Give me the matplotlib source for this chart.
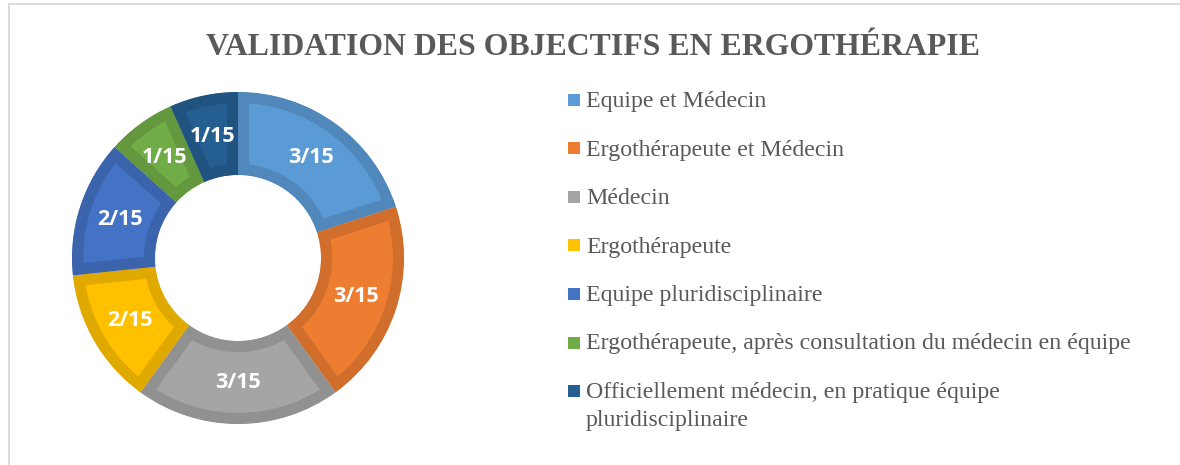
import numpy as np
import matplotlib
matplotlib.use("Agg")
import matplotlib.pyplot as plt
from matplotlib.colors import to_rgb
from matplotlib.patches import Rectangle
from matplotlib.lines import Line2D

title = "VALIDATION DES OBJECTIFS EN ERGOTHÉRAPIE"
categories = [
    "Equipe et Médecin",
    "Ergothérapeute et Médecin",
    "Médecin",
    "Ergothérapeute",
    "Equipe pluridisciplinaire",
    "Ergothérapeute, après consultation du médecin en équipe",
    "Officiellement médecin, en pratique équipe\npluridisciplinaire",
]
counts = [3, 3, 3, 2, 2, 1, 1]
total = 15

colors = ["#5B9BD5", "#ED7D31", "#A5A5A5", "#FFC000", "#4472C4", "#70AD47", "#255E91"]
edges = [tuple(c * 0.88 for c in to_rgb(col)) for col in colors]

W, H = 1180, 465
fig = plt.figure(figsize=(W / 100, H / 100), dpi=100)

# chart frame (light grey top and left border)
fig.add_artist(Line2D([8.5 / W, 1], [1 - 4.5 / H, 1 - 4.5 / H], transform=fig.transFigure,
                      color="#D9D9D9", lw=1.3))
fig.add_artist(Line2D([8.5 / W, 8.5 / W], [0, 1 - 4.5 / H], transform=fig.transFigure,
                      color="#D9D9D9", lw=1.3))

fig.text(593 / W, 1 - 55 / H, title, ha="center", va="baseline",
         family="Liberation Serif", weight="bold", fontsize=22.9, color="#595959")

# donut
cx, cy, r = 238, 258, 166
ax = fig.add_axes([(cx - r) / W, (H - cy - r) / H, 2 * r / W, 2 * r / H])
wedges, _, autotexts = ax.pie(
    counts, colors=colors, startangle=90, counterclock=False, radius=1,
    wedgeprops=dict(width=0.5), pctdistance=0.75,
    autopct=lambda p: f"{int(round(p * total / 100))}/{total}",
)
for w, ec in zip(wedges, edges):
    w.set_edgecolor(ec)
    w.set_linewidth(16)
    w.set_clip_on(True)
    w.set_clip_path(w)
for t in autotexts:
    t.set_color("white")
    t.set_family("Open Sans")
    t.set_weight("bold")
    t.set_fontsize(15.5)
ax.set_xlim(-1, 1)
ax.set_ylim(-1, 1)
ax.set_aspect("equal")
ax.axis("off")

# legend
lx, ly0, dy, sq = 568, 100, 48.5, 12
for i, (lab, col) in enumerate(zip(categories, colors)):
    y = ly0 + i * dy
    fig.add_artist(Rectangle((lx / W, (H - y - sq / 2) / H), sq / W, sq / H,
                             transform=fig.transFigure, facecolor=col, edgecolor="none"))
    fig.text(586 / W, 1 - (y - 9) / H, lab, ha="left", va="top",
             family="Liberation Serif", fontsize=17.2, color="#595959", linespacing=1.45)

fig.savefig("out.png", dpi=100)
